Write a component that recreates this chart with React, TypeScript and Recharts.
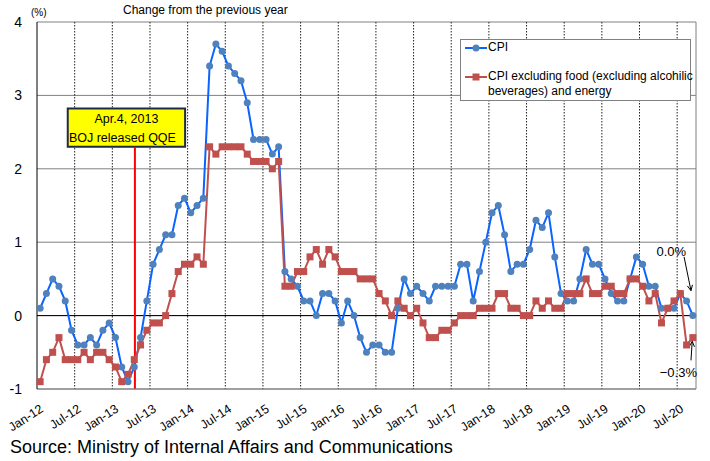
import React from "react";
import {
  LineChart,
  Line,
  XAxis,
  YAxis,
  CartesianGrid,
  Legend,
  ReferenceLine,
  ReferenceArea,
} from "recharts";

// monthly y/y change, Jan-12 .. Sep-20
const cpi = [
  0.1, 0.3, 0.5, 0.4, 0.2, -0.2, -0.4, -0.4, -0.3, -0.4, -0.2, -0.1,
  -0.3, -0.7, -0.9, -0.7, -0.3, 0.2, 0.7, 0.9, 1.1, 1.1, 1.5, 1.6,
  1.4, 1.5, 1.6, 3.4, 3.7, 3.6, 3.4, 3.3, 3.2, 2.9, 2.4, 2.4,
  2.4, 2.2, 2.3, 0.6, 0.5, 0.4, 0.2, 0.2, 0.0, 0.3, 0.3, 0.2,
  -0.1, 0.2, 0.0, -0.3, -0.5, -0.4, -0.4, -0.5, -0.5, 0.1, 0.5, 0.3,
  0.4, 0.3, 0.2, 0.4, 0.4, 0.4, 0.4, 0.7, 0.7, 0.2, 0.6, 1.0,
  1.4, 1.5, 1.1, 0.6, 0.7, 0.7, 0.9, 1.3, 1.2, 1.4, 0.8, 0.3,
  0.2, 0.2, 0.5, 0.9, 0.7, 0.7, 0.5, 0.3, 0.2, 0.2, 0.5, 0.8,
  0.7, 0.4, 0.4, 0.1, 0.1, 0.1, 0.3, 0.2, 0.0,
];

const coreCore = [
  -0.9, -0.6, -0.5, -0.3, -0.6, -0.6, -0.6, -0.5, -0.6, -0.5, -0.5, -0.6,
  -0.7, -0.9, -0.8, -0.6, -0.4, -0.2, -0.1, -0.1, 0.0, 0.3, 0.6, 0.7,
  0.7, 0.8, 0.7, 2.3, 2.2, 2.3, 2.3, 2.3, 2.3, 2.2, 2.1, 2.1,
  2.1, 2.0, 2.1, 0.4, 0.4, 0.6, 0.6, 0.8, 0.9, 0.7, 0.9, 0.8,
  0.6, 0.6, 0.6, 0.5, 0.5, 0.5, 0.3, 0.2, 0.0, 0.2, 0.1, 0.0,
  0.1, -0.1, -0.3, -0.3, -0.2, -0.2, -0.1, 0.0, 0.0, 0.0, 0.1, 0.1,
  0.1, 0.3, 0.3, 0.1, 0.1, 0.0, 0.0, 0.2, 0.1, 0.2, 0.1, 0.1,
  0.3, 0.3, 0.3, 0.5, 0.3, 0.3, 0.4, 0.4, 0.3, 0.3, 0.5, 0.5,
  0.4, 0.2, 0.3, -0.1, 0.1, 0.2, 0.3, -0.4, -0.3,
];

const tickLabels = [
  "Jan-12", "Jul-12", "Jan-13", "Jul-13", "Jan-14", "Jul-14",
  "Jan-15", "Jul-15", "Jan-16", "Jul-16", "Jan-17", "Jul-17",
  "Jan-18", "Jul-18", "Jan-19", "Jul-19", "Jan-20", "Jul-20",
];

const yTicks = [-1, 0, 1, 2, 3, 4];

const data = cpi.map((v, i) => ({ i, cpi: v, core: coreCore[i] }));
const tickIdx = tickLabels.map((_, k) => k * 6);
const boundaries = tickIdx.slice(1).map((t) => t - 0.5);
const X_DOMAIN: [number, number] = [-0.5, 104.5];

const FONT = "'Liberation Sans', Arial, sans-serif";
const BLUE_LINE = "#0a64ff";
const BLUE_DOT = "#4f81bd";
const RED = "#c0504d";

// month boundaries (Jul / Jan) for the dotted grid, through the x scale
function boundaryCoords({ xAxis, offset }: any) {
  if (xAxis && typeof xAxis.scale === "function") {
    return boundaries.map((b) => xAxis.scale(b));
  }
  const span = X_DOMAIN[1] - X_DOMAIN[0];
  return boundaries.map((b) => offset.left + ((b - X_DOMAIN[0]) / span) * offset.width);
}

function MonthTick({ x, y, payload }: any) {
  const label = tickLabels[Math.round(payload.value / 6)];
  return (
    <text
      x={0}
      y={0}
      transform={`translate(${x + 4},${y + 22}) rotate(-33)`}
      textAnchor="end"
      fontSize={12.5}
      fill="#000"
      fontFamily={FONT}
    >
      {label}
    </text>
  );
}

function SquareDot(props: any) {
  const { cx, cy, index } = props;
  if (cx == null || cy == null) return null;
  return (
    <rect key={`sq-${index}`} x={cx - 3.5} y={cy - 3.5} width={7} height={7} fill={RED} />
  );
}

function makeArrow(text: string, tx: number, ty: number) {
  return (props: any) => {
    const { x1, y1, x2, y2 } = props;
    const a = Math.atan2(y2 - y1, x2 - x1);
    const h = 6;
    const p1 = [x2 - h * Math.cos(a - 0.45), y2 - h * Math.sin(a - 0.45)];
    const p2 = [x2 - h * Math.cos(a + 0.45), y2 - h * Math.sin(a + 0.45)];
    return (
      <g>
        <line x1={x1} y1={y1} x2={x2} y2={y2} stroke="#000" strokeWidth={1} />
        <polyline
          points={`${p1[0]},${p1[1]} ${x2},${y2} ${p2[0]},${p2[1]}`}
          fill="none"
          stroke="#000"
          strokeWidth={1}
        />
        <text x={x1 + tx} y={y1 + ty} textAnchor="end" fontSize={13} fontFamily={FONT} fill="#000">
          {text}
        </text>
      </g>
    );
  };
}

function BoxLabel(props: any) {
  const { x, y, width } = props.viewBox;
  const cx = x + width / 2;
  return (
    <g fontFamily={FONT} fontSize={12.5} fill="#000">
      <text x={cx} y={y + 14} textAnchor="middle">Apr.4, 2013</text>
      <text x={cx - 4} y={y + 33} textAnchor="middle">BOJ released QQE</text>
    </g>
  );
}

function renderLegend() {
  return (
    <div
      style={{
        width: 231,
        height: 62,
        border: "1px solid #808080",
        background: "#fff",
        boxSizing: "border-box",
        position: "relative",
        fontSize: 12,
        fontFamily: FONT,
        color: "#000",
      }}
    >
      <svg width={24} height={10} style={{ position: "absolute", left: 4, top: 3 }}>
        <line x1={0} y1={5} x2={22} y2={5} stroke={BLUE_LINE} strokeWidth={2} />
        <circle cx={11} cy={5} r={3.5} fill={BLUE_DOT} />
      </svg>
      <div style={{ position: "absolute", left: 27, top: 0, lineHeight: "15px" }}>CPI</div>
      <svg width={24} height={10} style={{ position: "absolute", left: 4, top: 32 }}>
        <line x1={0} y1={5} x2={22} y2={5} stroke={RED} strokeWidth={2} />
        <rect x={7.5} y={1.5} width={7} height={7} fill={RED} />
      </svg>
      <div style={{ position: "absolute", left: 27, top: 29, lineHeight: "15px", whiteSpace: "nowrap" }}>
        CPI excluding food (excluding alcohilic
        <br />
        beverages) and energy
      </div>
    </div>
  );
}

export default function App() {
  return (
    <div
      style={{
        position: "absolute",
        left: 0,
        top: 0,
        width: 710,
        height: 461,
        background: "#fff",
        fontFamily: FONT,
      }}
    >
      <div style={{ position: "absolute", left: 123, top: 3, fontSize: 12, color: "#000" }}>
        Change from the previous year
      </div>
      <div style={{ position: "absolute", left: 31, top: 7, fontSize: 10, color: "#000" }}>(%)</div>
      <LineChart
        width={710}
        height={461}
        data={data}
        margin={{ top: 22, right: 14, left: 0, bottom: 0 }}
      >
        <CartesianGrid vertical={false} stroke="#808080" />
        <CartesianGrid
          horizontal={false}
          stroke="#222"
          strokeDasharray="1.5 1.5"
          verticalCoordinatesGenerator={boundaryCoords}
        />
        <XAxis
          type="number"
          dataKey="i"
          domain={X_DOMAIN}
          ticks={tickIdx}
          interval={0}
          height={72}
          tickSize={0}
          tickMargin={0}
          tick={<MonthTick />}
          axisLine={{ stroke: "#808080" }}
          tickLine={false}
        />
        <YAxis
          type="number"
          domain={[-1, 4]}
          ticks={yTicks}
          width={37}
          tickSize={0}
          tickMargin={15}
          tickLine={false}
          axisLine={{ stroke: "#000" }}
          tick={{ fontSize: 14, fill: "#000", fontFamily: FONT }}
        />
        <ReferenceLine x={104.5} stroke="#808080" />
        <ReferenceLine y={0} stroke="#000" />
        <ReferenceLine
          segment={[
            { x: 15.1, y: -1 },
            { x: 15.1, y: 2.3 },
          ]}
          stroke="#ff0000"
          strokeWidth={2}
        />
        <ReferenceArea
          x1={4.4}
          x2={23.1}
          y1={2.3}
          y2={2.82}
          fill="#ffff00"
          fillOpacity={1}
          stroke="#1f2a44"
          strokeWidth={2}
          label={(p: any) => <BoxLabel {...p} />}
        />
        <Line
          dataKey="cpi"
          stroke={BLUE_LINE}
          strokeWidth={2}
          dot={{ r: 3.5, fill: BLUE_DOT, stroke: BLUE_DOT, strokeWidth: 0 }}
          isAnimationActive={false}
        />
        <Line
          dataKey="core"
          stroke={RED}
          strokeWidth={2}
          dot={<SquareDot />}
          isAnimationActive={false}
        />
        <ReferenceLine
          segment={[
            { x: 102.6, y: 0.8 },
            { x: 103.7, y: 0.34 },
          ]}
          shape={makeArrow("0.0%", 2, -1)}
        />
        <ReferenceLine
          segment={[
            { x: 103.7, y: -0.61 },
            { x: 103.9, y: -0.35 },
          ]}
          shape={makeArrow("\u22120.3%", 6, 17)}
        />
        <Legend
          layout="vertical"
          align="center"
          verticalAlign="middle"
          content={renderLegend}
          wrapperStyle={{ left: 460, top: 39, width: 231, height: 62 }}
        />
      </LineChart>
      <div style={{ position: "absolute", left: 10, top: 437, fontSize: 18, color: "#000" }}>
        Source: Ministry of Internal Affairs and Communications
      </div>
    </div>
  );
}
